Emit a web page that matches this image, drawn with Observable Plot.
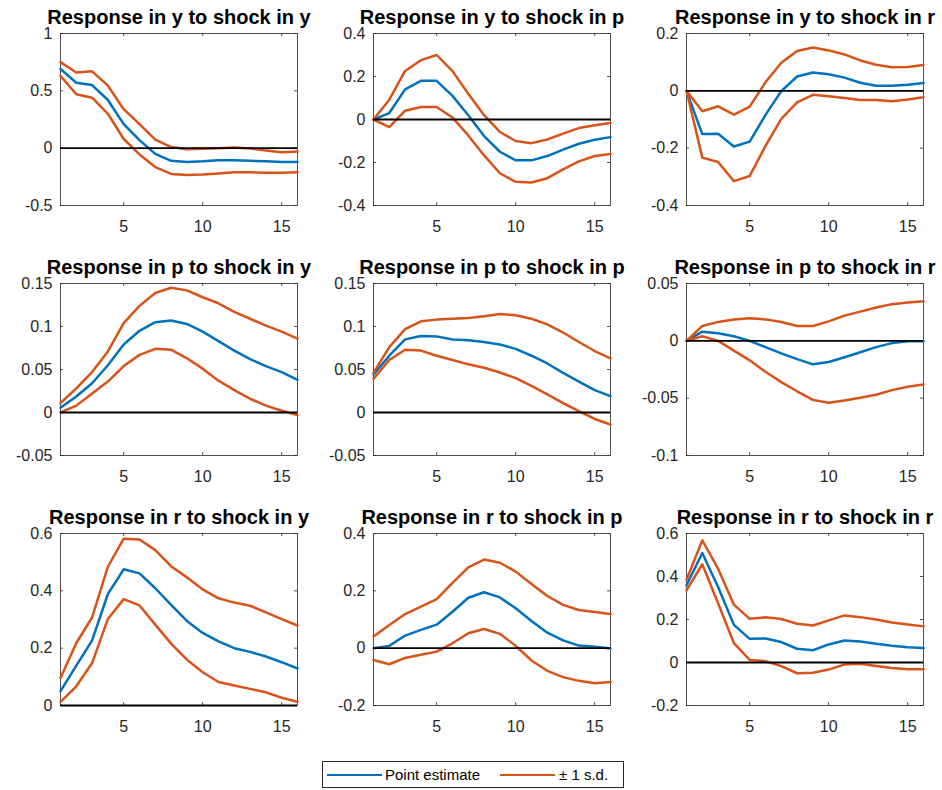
<!DOCTYPE html>
<html>
<head>
<meta charset="utf-8">
<script src="https://cdn.jsdelivr.net/npm/d3@7"></script>
<script src="https://cdn.jsdelivr.net/npm/@observablehq/plot@0.6"></script>
<style>
  body { margin: 0; background: #fff; font-family: "Liberation Sans", Arial, Helvetica, sans-serif; }
  #fig { position: relative; width: 942px; height: 790px; overflow: hidden; }
  .panel { position: absolute; }
  .panel svg { overflow: visible; }
  #legend {
    position: absolute; left: 322px; top: 761px; width: 302px; height: 27px;
    box-sizing: border-box; border: 1px solid #262626; background: #fff;
    font-size: 15px; color: #000;
  }
  #legend .sw { position: absolute; top: 12px; height: 0; border-top: 2px solid; }
  #legend .lab { position: absolute; top: 4px; line-height: 17px; white-space: nowrap; }
</style>
</head>
<body>
<div id="fig"></div>
<script>
// Forecast horizon (periods after the shock)
const horizon = [1, 2, 3, 4, 5, 6, 7, 8, 9, 10, 11, 12, 13, 14, 15, 16];
const xTicks = [5, 10, 15];

// Response in y to shock in y
const yy_est = [0.69, 0.57, 0.55, 0.42, 0.21, 0.07, -0.05, -0.11, -0.12, -0.115, -0.105, -0.105, -0.11, -0.115, -0.12, -0.12];
const yy_hi  = [0.75, 0.66, 0.67, 0.545, 0.34, 0.21, 0.075, 0.01, -0.01, -0.005, 0.0, 0.005, -0.003, -0.02, -0.035, -0.03];
const yy_lo  = [0.63, 0.47, 0.44, 0.30, 0.08, -0.055, -0.165, -0.225, -0.235, -0.23, -0.22, -0.21, -0.21, -0.215, -0.215, -0.21];

// Response in y to shock in p
const yp_est = [0, 0.03, 0.14, 0.18, 0.18, 0.11, 0.02, -0.077, -0.15, -0.19, -0.19, -0.17, -0.14, -0.113, -0.094, -0.082];
const yp_hi  = [0, 0.092, 0.226, 0.276, 0.30, 0.225, 0.12, 0.02, -0.058, -0.10, -0.11, -0.093, -0.066, -0.04, -0.027, -0.016];
const yp_lo  = [0, -0.035, 0.041, 0.058, 0.058, 0.009, -0.074, -0.167, -0.25, -0.29, -0.293, -0.273, -0.232, -0.195, -0.17, -0.16];

// Response in y to shock in r
const yr_est = [0, -0.151, -0.15, -0.194, -0.177, -0.084, -0.001, 0.05, 0.064, 0.058, 0.046, 0.028, 0.018, 0.018, 0.021, 0.027];
const yr_hi  = [0, -0.071, -0.054, -0.083, -0.055, 0.03, 0.098, 0.139, 0.151, 0.141, 0.127, 0.106, 0.091, 0.082, 0.083, 0.09];
const yr_lo  = [0, -0.233, -0.248, -0.315, -0.297, -0.192, -0.098, -0.04, -0.014, -0.019, -0.025, -0.032, -0.032, -0.036, -0.03, -0.022];

// Response in p to shock in y
const py_est = [0.0054, 0.0186, 0.034, 0.055, 0.079, 0.095, 0.105, 0.107, 0.103, 0.094, 0.083, 0.072, 0.062, 0.054, 0.047, 0.038];
const py_hi  = [0.011, 0.028, 0.047, 0.071, 0.104, 0.124, 0.139, 0.145, 0.142, 0.134, 0.127, 0.117, 0.109, 0.101, 0.094, 0.086];
const py_lo  = [0.0, 0.008, 0.022, 0.036, 0.054, 0.067, 0.074, 0.073, 0.063, 0.051, 0.037, 0.026, 0.016, 0.008, 0.002, -0.003];

// Response in p to shock in p
const pp_est = [0.044, 0.066, 0.085, 0.089, 0.0885, 0.085, 0.084, 0.082, 0.079, 0.074, 0.066, 0.057, 0.046, 0.036, 0.026, 0.019];
const pp_hi  = [0.046, 0.076, 0.097, 0.106, 0.108, 0.109, 0.11, 0.112, 0.1145, 0.113, 0.109, 0.1025, 0.093, 0.082, 0.0715, 0.063];
const pp_lo  = [0.039, 0.061, 0.073, 0.072, 0.066, 0.061, 0.056, 0.052, 0.0465, 0.040, 0.031, 0.021, 0.011, 0.0015, -0.0075, -0.014];

// Response in p to shock in r
const pr_est = [0, 0.008, 0.0067, 0.004, 0, -0.0055, -0.011, -0.016, -0.0205, -0.0185, -0.0143, -0.01, -0.0055, -0.002, -0.0003, -0.0003];
const pr_hi  = [0, 0.013, 0.0165, 0.0187, 0.0197, 0.0187, 0.0164, 0.013, 0.013, 0.017, 0.022, 0.0255, 0.029, 0.032, 0.0335, 0.0345];
const pr_lo  = [0, 0.004, 0, -0.0085, -0.017, -0.027, -0.036, -0.044, -0.0515, -0.054, -0.052, -0.0497, -0.047, -0.043, -0.040, -0.038];

// Response in r to shock in y
const ry_est = [0.05, 0.139, 0.227, 0.389, 0.475, 0.461, 0.409, 0.351, 0.295, 0.253, 0.224, 0.2, 0.187, 0.171, 0.151, 0.129];
const ry_hi  = [0.096, 0.218, 0.307, 0.484, 0.582, 0.579, 0.542, 0.486, 0.447, 0.405, 0.374, 0.359, 0.348, 0.325, 0.301, 0.279];
const ry_lo  = [0.013, 0.067, 0.148, 0.302, 0.371, 0.349, 0.282, 0.216, 0.16, 0.116, 0.082, 0.07, 0.058, 0.046, 0.027, 0.013];

// Response in r to shock in p
const rp_est = [0, 0.008, 0.044, 0.064, 0.082, 0.127, 0.176, 0.195, 0.177, 0.139, 0.095, 0.054, 0.027, 0.009, 0.005, -0.001];
const rp_hi  = [0.041, 0.081, 0.119, 0.145, 0.171, 0.228, 0.282, 0.309, 0.298, 0.267, 0.224, 0.182, 0.151, 0.133, 0.126, 0.119];
const rp_lo  = [-0.041, -0.056, -0.034, -0.023, -0.012, 0.017, 0.052, 0.067, 0.05, 0.008, -0.043, -0.079, -0.101, -0.114, -0.122, -0.118];

// Response in r to shock in r
const rr_est = [0.359, 0.509, 0.351, 0.175, 0.11, 0.112, 0.095, 0.064, 0.057, 0.084, 0.102, 0.098, 0.087, 0.078, 0.071, 0.067];
const rr_hi  = [0.385, 0.568, 0.436, 0.269, 0.203, 0.21, 0.202, 0.18, 0.172, 0.196, 0.219, 0.211, 0.2, 0.186, 0.177, 0.168];
const rr_lo  = [0.335, 0.457, 0.276, 0.09, 0.012, 0.006, -0.017, -0.05, -0.048, -0.033, -0.009, -0.006, -0.016, -0.026, -0.031, -0.031];

const titles = [
  "Response in y to shock in y", "Response in y to shock in p", "Response in y to shock in r",
  "Response in p to shock in y", "Response in p to shock in p", "Response in p to shock in r",
  "Response in r to shock in y", "Response in r to shock in p", "Response in r to shock in r"
];
const yDomains = [
  [-0.5, 1], [-0.4, 0.4], [-0.4, 0.2],
  [-0.05, 0.15], [-0.05, 0.15], [-0.1, 0.05],
  [0, 0.6], [-0.2, 0.4], [-0.2, 0.6]
];
const yTicks = [
  [-0.5, 0, 0.5, 1], [-0.4, -0.2, 0, 0.2, 0.4], [-0.4, -0.2, 0, 0.2],
  [-0.05, 0, 0.05, 0.1, 0.15], [-0.05, 0, 0.05, 0.1, 0.15], [-0.1, -0.05, 0, 0.05],
  [0, 0.2, 0.4, 0.6], [-0.2, 0, 0.2, 0.4], [-0.2, 0, 0.2, 0.4, 0.6]
];
const estimates = [yy_est, yp_est, yr_est, py_est, pp_est, pr_est, ry_est, rp_est, rr_est];
const uppers    = [yy_hi, yp_hi, yr_hi, py_hi, pp_hi, pr_hi, ry_hi, rp_hi, rr_hi];
const lowers    = [yy_lo, yp_lo, yr_lo, py_lo, pp_lo, pr_lo, ry_lo, rp_lo, rr_lo];

const blue = "#0072BD", orange = "#D95319", axisColor = "#262626";
const W = 313, H = 250, mL = 60, mR = 16, mT = 33, mB = 45;
const fw = W - mL - mR, fh = H - mT - mB, tick = 3;

const fig = document.getElementById("fig");

titles.forEach((title, k) => {
  const row = Math.floor(k / 3), col = k % 3;
  const toXY = arr => arr.map((v, i) => ({t: horizon[i], v}));
  const chart = Plot.plot({
    width: W, height: H,
    marginLeft: mL, marginRight: mR, marginTop: mT, marginBottom: mB,
    style: {fontSize: "16px", fontFamily: "'Liberation Sans', Arial, Helvetica, sans-serif", color: axisColor, background: "transparent", overflow: "visible"},
    x: {domain: [1, 16]},
    y: {domain: yDomains[k]},
    marks: [
      Plot.axisX(xTicks, {tickSize: 0, tickPadding: 15, label: null, fill: axisColor, fontSize: 16}),
      Plot.axisY(yTicks[k], {tickSize: 0, tickPadding: 8, label: null, fill: axisColor, fontSize: 16, tickFormat: d => String(d)}),
      // inward tick marks on all four sides of the box
      Plot.tickY(yTicks[k], {y: d => d, stroke: axisColor, strokeWidth: 0.8, insetRight: fw - tick}),
      Plot.tickY(yTicks[k], {y: d => d, stroke: axisColor, strokeWidth: 0.8, insetLeft: fw - tick}),
      Plot.tickX(xTicks, {x: d => d, stroke: axisColor, strokeWidth: 0.8, insetTop: fh - tick}),
      Plot.tickX(xTicks, {x: d => d, stroke: axisColor, strokeWidth: 0.8, insetBottom: fh - tick}),
      Plot.frame({stroke: axisColor, strokeWidth: 0.8}),
      Plot.line(toXY(estimates[k]), {x: "t", y: "v", stroke: blue, strokeWidth: 2.5}),
      Plot.line(toXY(uppers[k]), {x: "t", y: "v", stroke: orange, strokeWidth: 2.5}),
      Plot.line(toXY(lowers[k]), {x: "t", y: "v", stroke: orange, strokeWidth: 2.5}),
      Plot.ruleY([0], {stroke: "#000", strokeWidth: 1.8}),
      Plot.text([title], {frameAnchor: "top", dy: -10, lineAnchor: "bottom", fontSize: 20, fontWeight: "bold", fill: "#000"})
    ]
  });
  const holder = document.createElement("div");
  holder.className = "panel";
  holder.style.left = (col * W) + "px";
  holder.style.top = (row * H) + "px";
  holder.appendChild(chart);
  fig.appendChild(holder);
});

// Legend below the grid
const legendItems = [
  {label: "Point estimate", color: blue, sx: 4, sw: 55, tx: 62},
  {label: "\u00B1 1 s.d.", color: orange, sx: 177, sw: 55, tx: 236}
];
const legend = document.createElement("div");
legend.id = "legend";
legendItems.forEach(item => {
  const sw = document.createElement("span");
  sw.className = "sw";
  sw.style.left = item.sx + "px";
  sw.style.width = item.sw + "px";
  sw.style.borderTopColor = item.color;
  const lab = document.createElement("span");
  lab.className = "lab";
  lab.style.left = item.tx + "px";
  lab.textContent = item.label;
  legend.appendChild(sw);
  legend.appendChild(lab);
});
fig.appendChild(legend);
</script>
</body>
</html>
